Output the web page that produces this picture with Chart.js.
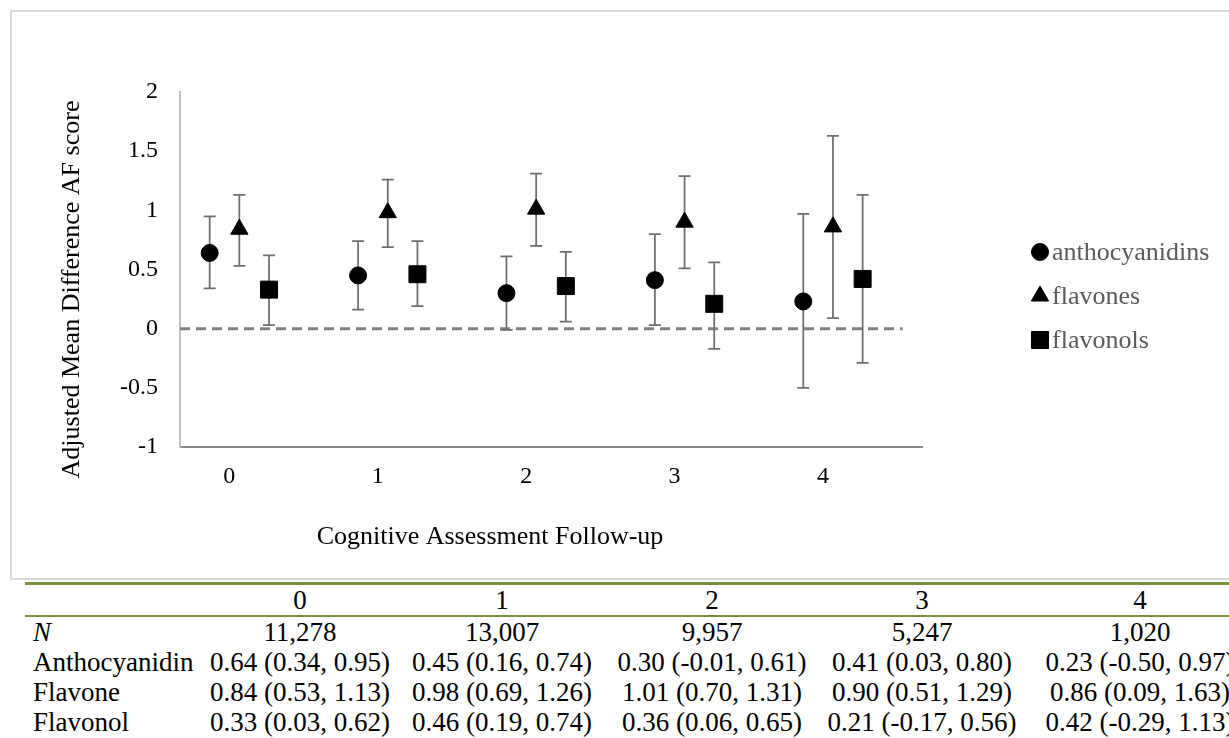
<!DOCTYPE html>
<html>
<head>
<meta charset="utf-8">
<script src="https://cdn.jsdelivr.net/npm/chart.js@4.4.1/dist/chart.umd.min.js"></script>
<style>
  html, body { margin: 0; padding: 0; background: #fff; width: 1229px; height: 738px; overflow: hidden; }
  #box { position: absolute; left: 10px; top: 10px; width: 1219px; height: 566px;
         border: 2px solid #d9d9d9; border-right: none; }
  #box canvas { display: block; }
  table { position: absolute; left: 25px; top: 582px; width: 1233px; border-collapse: separate; border-spacing: 0;
          table-layout: fixed; font-family: 'Liberation Serif', 'Times New Roman', serif;
          font-size: 27px; color: #000; }
  td { padding: 0; line-height: 30px; height: 30px; text-align: center; white-space: nowrap; overflow: visible; }
  td.lab { text-align: left; padding-left: 8px; }
  thead td { border-top: 3px solid #77933c; border-bottom: 2px solid #77933c; }
</style>
</head>
<body>
<div id="box"><canvas id="chart" width="1217" height="566"></canvas></div>
<table id="tbl">
  <colgroup>
    <col style="width:173px"><col style="width:204px"><col style="width:200px">
    <col style="width:220px"><col style="width:200px"><col style="width:236px">
  </colgroup>
  <thead></thead>
  <tbody></tbody>
</table>
<script>
// follow-up waves and sample sizes
const followUps = [0, 1, 2, 3, 4];
const sampleSizes = ["11,278", "13,007", "9,957", "5,247", "1,020"];

const seriesNames = ["anthocyanidins", "flavones", "flavonols"];
const rowNames = ["Anthocyanidin", "Flavone", "Flavonol"];

// adjusted mean difference with 95% CI
const anthocyanidinMean = [0.64, 0.45, 0.30, 0.41, 0.23];
const anthocyanidinLow  = [0.34, 0.16, -0.01, 0.03, -0.50];
const anthocyanidinHigh = [0.95, 0.74, 0.61, 0.80, 0.97];

const flavoneMean = [0.84, 0.98, 1.01, 0.90, 0.86];
const flavoneLow  = [0.53, 0.69, 0.70, 0.51, 0.09];
const flavoneHigh = [1.13, 1.26, 1.31, 1.29, 1.63];

const flavonolMean = [0.33, 0.46, 0.36, 0.21, 0.42];
const flavonolLow  = [0.03, 0.19, 0.06, -0.17, -0.29];
const flavonolHigh = [0.62, 0.74, 0.65, 0.56, 1.13];

const zeroLineX = [-0.4, 4.47];

const series = [
  { mean: anthocyanidinMean, lo: anthocyanidinLow, hi: anthocyanidinHigh, style: "circle", radius: 8.5 },
  { mean: flavoneMean, lo: flavoneLow, hi: flavoneHigh, style: "triangle", radius: 10 },
  { mean: flavonolMean, lo: flavonolLow, hi: flavonolHigh, style: "rect", radius: 12 },
];
const seriesOffset = [-0.2, 0, 0.2];

const FONT = "'Liberation Serif', 'Times New Roman', serif";
Chart.defaults.font.family = FONT;

// table under the chart
const fmt = v => v.toFixed(2);
const thead = document.querySelector("#tbl thead");
const tbody = document.querySelector("#tbl tbody");
thead.innerHTML = "<tr><td class='lab'></td>" + followUps.map(f => `<td>${f}</td>`).join("") + "</tr>";
let rows = "<tr><td class='lab'><i>N</i></td>" + sampleSizes.map(n => `<td>${n}</td>`).join("") + "</tr>";
series.forEach((s, si) => {
  rows += `<tr><td class='lab'>${rowNames[si]}</td>` +
    s.mean.map((m, i) => `<td>${fmt(m)} (${fmt(s.lo[i])}, ${fmt(s.hi[i])})</td>`).join("") + "</tr>";
});
tbody.innerHTML = rows;

const datasets = series.map((s, si) => ({
  label: seriesNames[si],
  type: "scatter",
  data: followUps.map((f, i) => ({ x: f + seriesOffset[si], y: s.mean[i] })),
  pointStyle: s.style,
  pointRadius: s.radius,
  backgroundColor: "#000",
  borderColor: "#000",
  borderWidth: 1,
  showLine: false,
}));
datasets.push({
  label: "zero",
  type: "line",
  data: zeroLineX.map(x => ({ x, y: 0 })),
  borderColor: "#808080",
  borderWidth: 3,
  borderDash: [10, 6],
  pointRadius: 0,
  fill: false,
});
const zeroIndex = datasets.length - 1;

// error bars drawn over the dashed line, under the markers
const errorBars = {
  id: "errorBars",
  afterDatasetDraw(chart, args) {
    if (args.index !== zeroIndex) return;
    const { ctx, scales: { y } } = chart;
    ctx.save();
    ctx.strokeStyle = "#6e6e6e";
    ctx.lineWidth = 1.75;
    series.forEach((s, si) => {
      const pts = chart.getDatasetMeta(si).data;
      pts.forEach((p, i) => {
        const top = y.getPixelForValue(s.hi[i]);
        const bot = y.getPixelForValue(s.lo[i]);
        ctx.beginPath();
        ctx.moveTo(p.x, top); ctx.lineTo(p.x, bot);
        ctx.moveTo(p.x - 6, top); ctx.lineTo(p.x + 6, top);
        ctx.moveTo(p.x - 6, bot); ctx.lineTo(p.x + 6, bot);
        ctx.stroke();
      });
    });
    ctx.restore();
  },
};

// axis titles and legend, placed like the original layout
const extras = {
  id: "extras",
  afterDraw(chart) {
    const { ctx, chartArea: a } = chart;
    ctx.save();
    ctx.font = "26px " + FONT;
    ctx.fillStyle = "#000";
    ctx.textAlign = "center";
    ctx.textBaseline = "middle";
    ctx.fillText("Cognitive Assessment Follow-up", a.left + 310, a.bottom + 90);
    ctx.save();
    ctx.translate(a.left - 108, (a.top + a.bottom) / 2 + 20);
    ctx.rotate(-Math.PI / 2);
    ctx.fillText("Adjusted Mean Difference AF score", 0, 0);
    ctx.restore();

    ctx.textAlign = "left";
    series.forEach((s, si) => {
      const lx = a.right + 118;
      const ly = a.top + 160 + si * 44;
      ctx.fillStyle = "#000";
      ctx.strokeStyle = "#000";
      ctx.lineWidth = 1;
      Chart.helpers.drawPoint(ctx, { pointStyle: s.style, radius: s.radius, rotation: 0, borderWidth: 1 }, lx, ly);
      ctx.fillStyle = "#595959";
      ctx.fillText(seriesNames[si], lx + 12, ly + 1);
    });
    ctx.restore();
  },
};

const tickFont = { size: 24, family: FONT };

new Chart(document.getElementById("chart"), {
  type: "scatter",
  data: { datasets },
  options: {
    responsive: false,
    animation: false,
    events: [],
    layout: { padding: { top: 80, right: 307, bottom: 0, left: 0 } },
    plugins: { legend: { display: false }, tooltip: { enabled: false } },
    scales: {
      x: {
        type: "linear",
        min: -0.4,
        max: 4.6,
        afterBuildTicks: s => { s.ticks = followUps.map(v => ({ value: v })); },
        afterFit: s => { s.height = 131; },
        grid: { display: false, drawTicks: false },
        border: { display: true, color: "#868686", width: 2 },
        ticks: { font: tickFont, color: "#000", padding: 15, labelOffset: -10, maxRotation: 0, autoSkip: false },
      },
      y: {
        min: -1,
        max: 2,
        afterFit: s => { s.width = 168; },
        grid: { display: false, drawTicks: false },
        border: { display: true, color: "#c0c0c0", width: 2 },
        ticks: { stepSize: 0.5, font: tickFont, color: "#000", padding: 22, callback: v => String(v) },
      },
    },
  },
  plugins: [errorBars, extras],
});
</script>
</body>
</html>
